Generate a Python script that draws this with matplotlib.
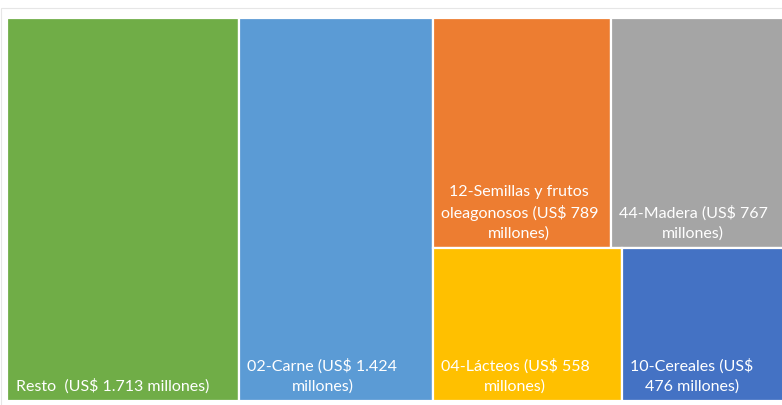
import matplotlib
matplotlib.use("Agg")
import matplotlib.pyplot as plt
from matplotlib.patches import Rectangle

plt.rcParams['font.family'] = ['Lato', 'DejaVu Sans']

names = ["Resto", "02-Carne", "12-Semillas y frutos oleagonosos", "44-Madera",
         "04-Lácteos", "10-Cereales"]
values = [1713, 1424, 789, 767, 558, 476]
labels = ["Resto  (US$ 1.713 millones)",
          "02-Carne (US$ 1.424\nmillones)",
          "12-Semillas y frutos\noleagonosos (US$ 789\nmillones)",
          "44-Madera (US$ 767\nmillones)",
          "04-Lácteos (US$ 558\nmillones)",
          "10-Cereales (US$\n476 millones)"]
colors = ["#70AD47", "#5B9BD5", "#ED7D31", "#A5A5A5", "#FFC000", "#4472C4"]

# layout: columns -> rows -> cells (indices into values)
layout = [[[0]], [[1]], [[2, 3], [4, 5]]]

W, H = 782, 405
fig = plt.figure(figsize=(W / 100, H / 100), dpi=100)
fig.patch.set_facecolor("white")

# faint chart-area border
fig.add_artist(Rectangle((1 / W, -0.1), 1.2, (H - 8) / H + 0.1, transform=fig.transFigure,
                         fill=False, edgecolor="#E6E6E6", linewidth=0.8))

ax = fig.add_axes([7 / W, 4 / H, 777 / W, 383 / H])
total = sum(values)
ax.set_xlim(0, total)
ax.set_ylim(0, 1)
ax.axis("off")

x = 0.0
for col in layout:
    csum = sum(values[i] for row in col for i in row)
    y = 1.0
    for row in col:
        rsum = sum(values[i] for i in row)
        h = rsum / csum
        y -= h
        cx = x
        for i in row:
            w = values[i] / rsum * csum
            ax.add_patch(Rectangle((cx, y), w, h, facecolor=colors[i],
                                   edgecolor="white", linewidth=1.6))
            ax.annotate(labels[i], xy=(cx, y), xytext=(9 if i == 0 else 8, 7),
                        textcoords="offset pixels", ha="left", va="bottom",
                        multialignment="center", color="white", fontsize=11.5,
                        linespacing=1.5)
            cx += w
    x += csum

fig.savefig("out.png", dpi=100)
